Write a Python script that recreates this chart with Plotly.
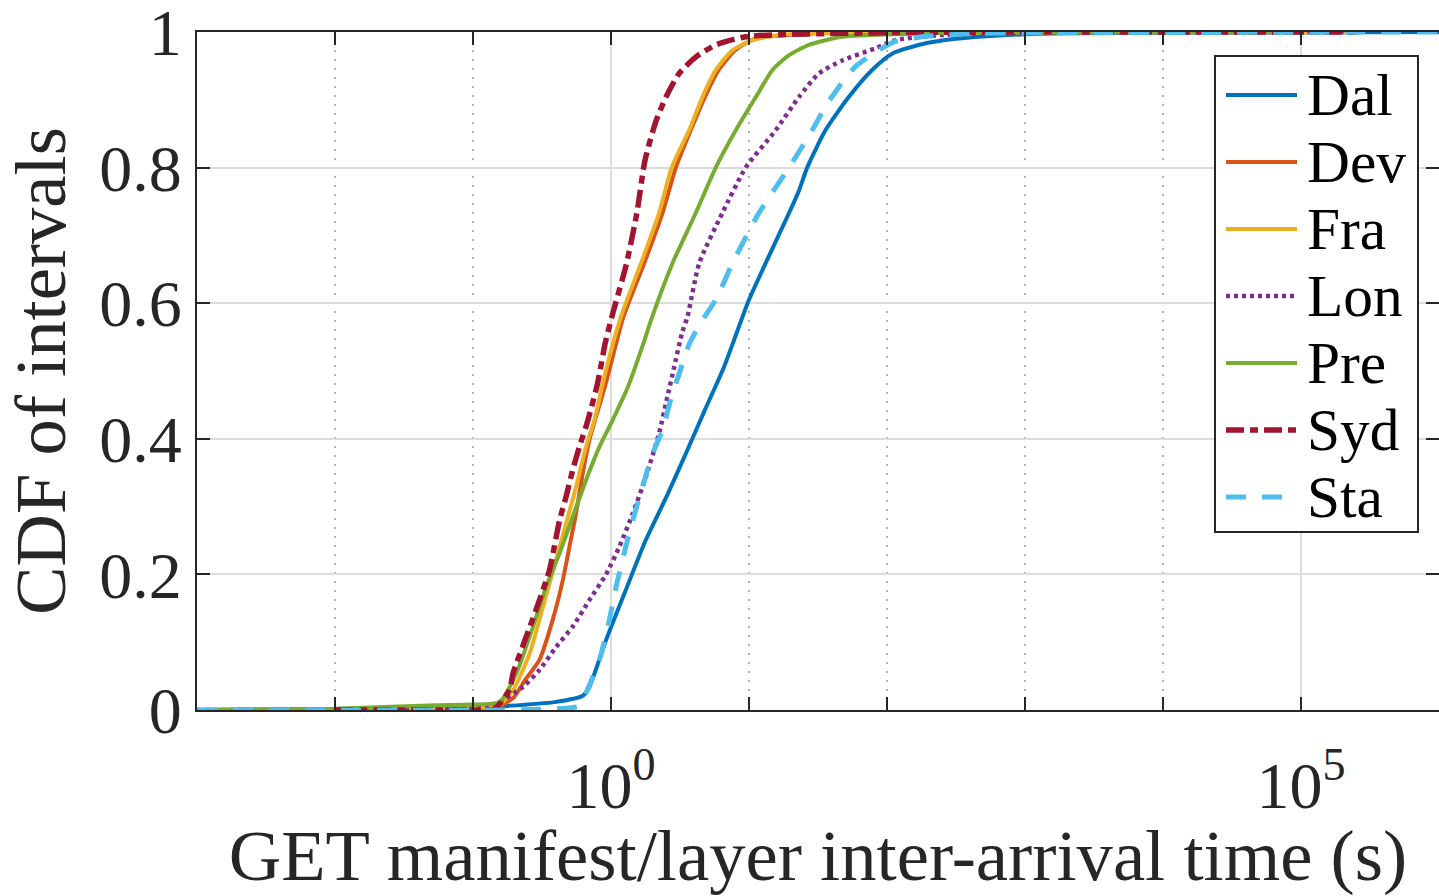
import plotly.graph_objects as go

# ---------------- data ----------------
SERIES = ["Dal", "Dev", "Fra", "Lon", "Pre", "Syd", "Sta"]

DAL_T = [0.001, 0.0316, 0.174, 0.400, 0.624, 0.697, 0.920, 1.28, 1.79, 2.53, 3.48,
         4.80, 6.59, 10.0, 13.2, 19.5, 23.0, 26.4, 35.8, 52.8, 78.0, 109, 178, 316, 646,
         1995, 10000, 1000000]
DAL_CDF = [0.0, 0.0, 0.006, 0.012, 0.021, 0.034, 0.103, 0.177, 0.251, 0.315, 0.378,
           0.443, 0.506, 0.605, 0.659, 0.733, 0.766, 0.800, 0.855, 0.904, 0.944, 0.968, 0.982, 0.990,
           0.995, 0.998, 0.999, 1.0]

DEV_T = [0.001, 0.1, 0.152, 0.196, 0.240, 0.303, 0.378, 0.448, 0.500, 0.558, 0.624,
         0.697, 0.912, 1.23, 1.74, 2.36, 2.95, 3.78, 4.79, 6.03, 7.94, 11.0, 31.6, 275000]
DEV_CDF = [0.0, 0.003, 0.005, 0.018, 0.045, 0.074, 0.133, 0.192, 0.241, 0.290, 0.349,
           0.398, 0.480, 0.580, 0.659, 0.733, 0.800, 0.855, 0.904, 0.944, 0.973, 0.990, 0.998, 1.0]

FRA_T = [0.001, 0.0316, 0.1, 0.152, 0.196, 0.257, 0.321, 0.400, 0.473, 0.558, 0.659,
         0.759, 0.908, 1.18, 1.65, 2.23, 2.75, 3.68, 4.60, 5.74, 7.59, 10.6, 17.2, 100, 275000]
FRA_CDF = [0.0, 0.001, 0.004, 0.006, 0.030, 0.083, 0.152, 0.221, 0.275, 0.329, 0.388,
           0.428, 0.497, 0.580, 0.659, 0.733, 0.800, 0.855, 0.904, 0.944, 0.973, 0.988, 0.996, 0.999, 1.0]

LON_T = [0.001, 0.063, 0.132, 0.230, 0.303, 0.400, 0.528, 0.697, 0.920, 1.15, 1.44,
         1.79, 2.23, 2.53, 2.87, 3.27, 3.58, 4.36, 6.41, 9.46, 15.6, 23.0, 32.1, 47.3,
         82.4, 115, 224, 1000, 275000]
LON_CDF = [0.0, 0.001, 0.005, 0.034, 0.059, 0.093, 0.123, 0.162, 0.200, 0.241, 0.290,
           0.344, 0.408, 0.457, 0.506, 0.556, 0.580, 0.659, 0.733, 0.800, 0.855, 0.904, 0.939, 0.958,
           0.976, 0.988, 0.995, 0.999, 1.0]

PRE_T = [0.001, 0.01, 0.0544, 0.1, 0.156, 0.206, 0.272, 0.339, 0.424, 0.528, 0.659,
         0.824, 1.03, 1.33, 1.72, 1.95, 2.79, 4.11, 5.74, 8.02, 11.2, 14.8, 19.5, 27.2,
         47.3, 316, 100000]
PRE_CDF = [0.0, 0.002, 0.007, 0.008, 0.012, 0.054, 0.123, 0.182, 0.231, 0.285, 0.339,
           0.388, 0.428, 0.477, 0.541, 0.575, 0.659, 0.733, 0.800, 0.855, 0.904, 0.944, 0.966, 0.981,
           0.993, 0.999, 1.0]

SYD_T = [0.01, 0.1, 0.142, 0.184, 0.195, 0.243, 0.303, 0.358, 0.424, 0.473, 0.528,
         0.590, 0.659, 0.703, 0.80, 0.908, 1.03, 1.29, 1.54, 1.76, 2.09, 2.50, 3.12,
         4.11, 5.74, 9.46, 100, 275000]
SYD_CDF = [0.0, 0.0, 0.001, 0.030, 0.054, 0.108, 0.162, 0.206, 0.280, 0.315, 0.354,
           0.388, 0.418, 0.438, 0.482, 0.541, 0.585, 0.657, 0.733, 0.810, 0.865, 0.904, 0.939,
           0.963, 0.981, 0.993, 0.999, 1.0]

STA_T = [0.001, 0.3, 0.590, 0.659, 0.824, 0.973, 1.09, 1.28, 1.44, 1.69, 2.00, 2.36,
         2.70, 3.06, 3.71, 4.50, 5.81, 7.59, 11.8, 19.5, 28.7, 35.8, 44.8, 59.0, 87.1,
         115, 200, 501, 3162, 1000000]
STA_CDF = [0.0, 0.001, 0.006, 0.025, 0.074, 0.133, 0.182, 0.241, 0.280, 0.329, 0.378,
           0.413, 0.457, 0.491, 0.541, 0.572, 0.607, 0.659, 0.733, 0.800, 0.855, 0.890, 0.919, 0.949,
           0.973, 0.986, 0.994, 0.998, 0.999, 1.0]

X_TICKVALS = [1, 100000]
X_TICKTEXT = ["10<sup>0</sup>", "10<sup>5</sup>"]
X_MINORVALS = [0.01, 0.1, 10, 100, 1000, 10000]
Y_TICKVALS = [0, 0.2, 0.4, 0.6, 0.8, 1]
Y_TICKTEXT = ["0", "0.2", "0.4", "0.6", "0.8", "1"]

DATA = {
    "Dal": (DAL_T, DAL_CDF),
    "Dev": (DEV_T, DEV_CDF),
    "Fra": (FRA_T, FRA_CDF),
    "Lon": (LON_T, LON_CDF),
    "Pre": (PRE_T, PRE_CDF),
    "Syd": (SYD_T, SYD_CDF),
    "Sta": (STA_T, STA_CDF),
}

# ---------------- styles ----------------
STYLE = {
    "Dal": dict(color="#0072BD", dash="solid", width=4),
    "Dev": dict(color="#D95319", dash="solid", width=4),
    "Fra": dict(color="#EDB120", dash="solid", width=4),
    "Lon": dict(color="#7E2F8E", dash="4px,4px", width=4.5),
    "Pre": dict(color="#77AC30", dash="solid", width=4),
    "Syd": dict(color="#A2142F", dash="18px,6px,8px,6px", width=5.5),
    "Sta": dict(color="#4DBEEE", dash="20px,16px", width=5),
}

FONT = "Liberation Serif, Times New Roman, serif"
INK = "#262626"

fig = go.Figure()
for name in SERIES:
    t, c = DATA[name]
    fig.add_trace(go.Scatter(x=t, y=c, mode="lines", name=name,
                             line=dict(**STYLE[name], shape="spline", smoothing=0.6),
                             hoverinfo="skip", showlegend=False))

# ---------------- legend box (MATLAB style) ----------------
PLOT_L, PLOT_R, PLOT_T, PLOT_B = 197, 1439, 32, 710


def px2paper_x(px):
    return (px - PLOT_L) / (PLOT_R - PLOT_L)


def px2paper_y(py):
    return (PLOT_B - py) / (PLOT_B - PLOT_T)


LEG_BOX = (1215, 56, 1418, 532)          # left, top, right, bottom in px
LEG_ROW0, LEG_ROW_STEP = 95, 67
LEG_LINE_X = (1226, 1297)
LEG_TEXT_X = 1305

shapes = [dict(type="rect", xref="paper", yref="paper", layer="above",
               x0=px2paper_x(LEG_BOX[0]), x1=px2paper_x(LEG_BOX[2]),
               y0=px2paper_y(LEG_BOX[3]), y1=px2paper_y(LEG_BOX[1]),
               line=dict(color=INK, width=2), fillcolor="white")]
annotations = []
for i, name in enumerate(SERIES):
    yy = px2paper_y(LEG_ROW0 + i * LEG_ROW_STEP)
    st = STYLE[name]
    shapes.append(dict(type="line", xref="paper", yref="paper", layer="above",
                       x0=px2paper_x(LEG_LINE_X[0]), x1=px2paper_x(LEG_LINE_X[1]),
                       y0=yy, y1=yy,
                       line=dict(color=st["color"], width=st["width"], dash=st["dash"])))
    annotations.append(dict(xref="paper", yref="paper", x=px2paper_x(LEG_TEXT_X), y=yy,
                            xanchor="left", yanchor="middle", showarrow=False, text=name,
                            font=dict(family=FONT, size=59.4, color="black")))

fig.update_layout(
    width=1439, height=896,
    margin=dict(l=PLOT_L, r=1439 - PLOT_R, t=PLOT_T, b=896 - PLOT_B),
    paper_bgcolor="white", plot_bgcolor="white",
    font=dict(family=FONT, color=INK, size=66),
    showlegend=False,
    shapes=shapes, annotations=annotations,
)

fig.update_xaxes(
    type="log", range=[-3, 6],
    tickmode="array", tickvals=X_TICKVALS, ticktext=X_TICKTEXT,
    ticks="inside", ticklen=13, tickwidth=1.5, tickcolor=INK,
    tickfont=dict(family=FONT, size=66, color=INK),
    ticklabelstandoff=17, ticklabeloverflow="allow",
    showline=True, linecolor=INK, linewidth=2, mirror="allticks",
    showgrid=True, gridcolor="#dcdcdc", gridwidth=1.5, zeroline=False,
    minor=dict(tickmode="array", tickvals=X_MINORVALS, ticks="inside", ticklen=13,
               tickwidth=1.5, tickcolor=INK, showgrid=True, griddash="2px,7px",
               gridcolor="#b4b4b4", gridwidth=1.5),
    title=dict(text="GET manifest/layer inter-arrival time (s)",
               font=dict(family=FONT, size=72.6, color=INK), standoff=3),
    automargin=False,
)

fig.update_yaxes(
    range=[0, 1],
    tickmode="array", tickvals=Y_TICKVALS, ticktext=Y_TICKTEXT,
    ticks="inside", ticklen=13, tickwidth=1.5, tickcolor=INK,
    tickfont=dict(family=FONT, size=66, color=INK),
    ticklabeloverflow="allow",
    showline=True, linecolor=INK, linewidth=2, mirror="allticks",
    showgrid=True, gridcolor="#dcdcdc", gridwidth=1.5, zeroline=False,
    title=dict(text="CDF of intervals",
               font=dict(family=FONT, size=72.6, color=INK), standoff=10),
    automargin=False,
)

fig.write_html("out.html")
